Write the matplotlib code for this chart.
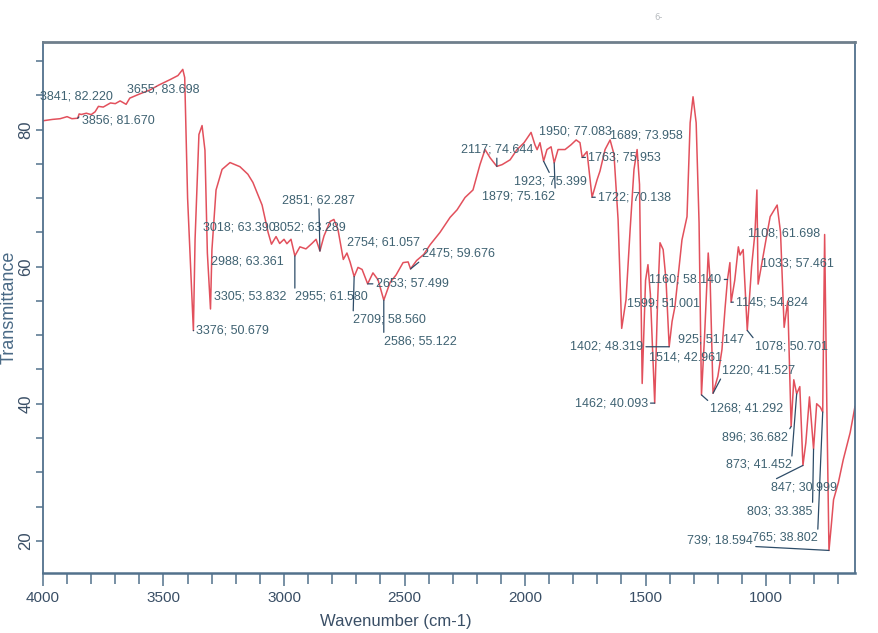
import matplotlib.pyplot as plt
from matplotlib.ticker import MultipleLocator

# FTIR spectrum
wavenumber = [4000, 3960, 3929, 3900, 3880, 3856, 3850, 3841, 3820, 3800, 3784, 3770,
              3750, 3720, 3700, 3680, 3655, 3640, 3600, 3556, 3520, 3473, 3440, 3420,
              3412, 3400, 3376, 3369, 3353, 3340, 3328, 3318, 3305, 3299, 3282, 3257,
              3224, 3183, 3150, 3129, 3091, 3066, 3052, 3033, 3018, 3000, 2988, 2971,
              2955, 2934, 2909, 2884, 2867, 2851, 2834, 2809, 2793, 2776, 2754, 2739,
              2726, 2709, 2693, 2676, 2653, 2631, 2610, 2586, 2560, 2535, 2506, 2485,
              2475, 2450, 2420, 2394, 2353, 2311, 2282, 2249, 2216, 2187, 2166, 2145,
              2117, 2095, 2062, 2033, 2004, 1975, 1959, 1950, 1938, 1923, 1909, 1892,
              1879, 1863, 1834, 1809, 1788, 1772, 1763, 1743, 1722, 1701, 1689, 1668,
              1647, 1631, 1614, 1599, 1581, 1564, 1548, 1535, 1525, 1514, 1500, 1490,
              1480, 1462, 1450, 1440, 1427, 1415, 1402, 1390, 1378, 1349, 1328, 1315,
              1303, 1290, 1278, 1268, 1255, 1240, 1232, 1220, 1200, 1183, 1170, 1160,
              1150, 1145, 1130, 1115, 1108, 1095, 1078, 1060, 1046, 1038, 1033, 1020,
              1000, 983, 954, 940, 925, 910, 896, 885, 873, 860, 847, 835, 820, 803,
              790, 775, 765, 757, 748, 739, 730, 720, 700, 680, 651, 631]
transmittance = [81.3, 81.5, 81.6, 81.9, 81.6, 81.67, 82.3, 82.22, 82.4, 82.2, 82.6, 83.4,
                 83.3, 83.9, 83.8, 84.2, 83.7, 84.6, 85.2, 85.8, 86.5, 87.3, 87.9, 88.8,
                 87.6, 70.0, 50.68, 64.0, 79.3, 80.6, 77.0, 62.0, 53.83, 62.5, 71.2, 74.2,
                 75.2, 74.6, 73.5, 72.3, 69.0, 65.0, 63.29, 64.4, 63.39, 64.0, 63.36, 64.0,
                 61.58, 62.9, 62.6, 63.4, 64.0, 62.29, 64.5, 66.6, 66.9, 65.4, 61.06, 62.0,
                 60.7, 58.56, 59.9, 59.6, 57.5, 59.1, 58.1, 55.12, 57.7, 58.8, 60.6, 60.7,
                 59.68, 60.9, 61.8, 63.2, 65.0, 67.2, 68.3, 70.1, 71.2, 74.9, 77.1, 75.9,
                 74.64, 74.9, 75.6, 77.1, 78.1, 79.6, 77.8, 77.08, 78.1, 75.4, 77.1, 77.5,
                 75.16, 77.1, 77.1, 77.8, 78.5, 78.1, 75.95, 76.8, 70.14, 72.7, 73.96, 77.1,
                 78.5, 76.4, 66.9, 51.0, 55.2, 65.4, 74.2, 77.1, 72.0, 42.96, 58.0, 60.3,
                 56.0, 40.09, 55.0, 63.5, 62.5, 58.0, 48.32, 52.0, 54.2, 63.9, 67.3, 81.0,
                 84.8, 81.0, 66.4, 41.29, 50.0, 62.0, 58.0, 41.53, 44.0, 47.9, 54.0, 58.14,
                 60.6, 54.82, 58.0, 62.9, 61.7, 62.5, 50.7, 60.0, 65.0, 71.2, 57.46, 60.0,
                 64.0, 67.3, 69.0, 65.0, 51.15, 55.0, 36.68, 43.5, 41.45, 42.5, 31.0, 34.3,
                 41.0, 33.39, 40.0, 39.5, 38.8, 64.7, 40.0, 18.59, 22.0, 26.0, 28.5, 31.8,
                 35.8, 39.6]

# peak labels
peak_wn = [3841, 3856, 3655, 3376, 3305, 3018, 3052, 2851, 2988, 2955, 2754, 2709,
           2653, 2586, 2475, 2117, 1950, 1923, 1879, 1763, 1722, 1689, 1599, 1402,
           925, 1514, 1462, 1268, 1220, 1160, 1145, 1108, 1078, 1033, 896, 873, 847,
           803, 765, 739]
peak_t = [82.220, 81.670, 83.698, 50.679, 53.832, 63.390, 63.289, 62.287, 63.361,
          61.580, 61.057, 58.560, 57.499, 55.122, 59.676, 74.644, 77.083, 75.399,
          75.162, 75.953, 70.138, 73.958, 51.001, 48.319, 51.147, 42.961, 40.093,
          41.292, 41.527, 58.140, 54.824, 61.698, 50.701, 57.461, 36.682, 41.452,
          30.999, 33.385, 38.802, 18.594]

# label placement: (dx px, dy px, ha, leader line?)
label_pos = [(-41, 18, 'left', False), (4, -2, 'left', True), (1, 15, 'left', False),
             (3, 0, 'left', True), (4, 12, 'left', False), (-4, 16, 'right', False),
             (2, 17, 'left', False), (-1, 51, 'center', True), (-3, -18, 'right', False),
             (0, -41, 'left', True), (4, 17, 'left', False), (-1, -43, 'left', True),
             (8, 0, 'left', True), (0, -41, 'left', True), (11, 15, 'left', True),
             (0, 17, 'center', True), (2, 18, 'left', False), (7, -20, 'center', True),
             (1, -34, 'right', True), (6, 0, 'left', True), (6, 0, 'left', True),
             (10, 36, 'left', False), (5, 25, 'left', False), (-26, 0, 'right', True),
             (-106, -12, 'left', False), (7, 26, 'left', False), (-7, 0, 'right', True),
             (9, -14, 'left', True), (9, 23, 'left', True), (-6, 0, 'right', True),
             (5, 0, 'left', True), (8, 22, 'left', False), (8, -16, 'left', True),
             (3, 21, 'left', False), (-3, -11, 'right', True), (-5, -71, 'right', True),
             (-32, -22, 'left', True), (-1, -62, 'right', True), (-5, -126, 'right', True),
             (-76, 10, 'right', True)]

frame_col = '#52718c'
text_col = '#3f6272'
line_col = '#e2505c'

fig = plt.figure(figsize=(8.79, 6.33), dpi=100)
ax = fig.add_axes([0.0489, 0.0948, 0.9238, 0.8389])

ax.plot(wavenumber, transmittance, color=line_col, lw=1.1)

for wn, t, (dx, dy, ha, lead) in zip(peak_wn, peak_t, label_pos):
    props = None
    if lead:
        rx = {'left': 0.0, 'right': 1.0, 'center': 0.5}[ha]
        ry = 1.0 if dy < 0 else (0.0 if dy > 0 else 0.5)
        props = dict(arrowstyle='-', color='#2d4c68', lw=0.9,
                     shrinkA=0, shrinkB=0, relpos=(rx, ry))
    ax.annotate(f"{wn}; {t:.3f}", xy=(wn, t), xytext=(dx, dy),
                textcoords='offset pixels', ha=ha, va='center',
                fontsize=9, color=text_col, family='Liberation Sans',
                arrowprops=props)

ax.set_xlim(4000, 631)
ax.set_ylim(15.3, 92.8)
ax.xaxis.set_major_locator(MultipleLocator(500))
ax.xaxis.set_minor_locator(MultipleLocator(100))
ax.yaxis.set_major_locator(MultipleLocator(20))
ax.yaxis.set_minor_locator(MultipleLocator(5))
ax.tick_params(axis='both', which='both', direction='out', color=frame_col,
               labelcolor='#3a4f66', width=1.1)
ax.tick_params(axis='x', which='major', length=9, labelsize=11, pad=4)
ax.tick_params(axis='x', which='minor', length=8)
ax.tick_params(axis='y', which='major', length=5, labelsize=12, pad=2)
ax.tick_params(axis='y', which='minor', length=5)
for lab in ax.get_xticklabels():
    lab.set_family('Liberation Sans')
for lab in ax.get_yticklabels():
    lab.set_family('Liberation Sans')
    lab.set_rotation(90)
    lab.set_va('center')

for side, sp in ax.spines.items():
    sp.set_color(frame_col)
    sp.set_linewidth(1.3)
ax.spines['top'].set_color('#6f7f8c')
ax.spines['top'].set_linewidth(2.0)
ax.spines['bottom'].set_linewidth(1.8)

ax.set_xlabel("Wavenumber (cm-1)", fontsize=12, color='#3a4f66',
              family='Liberation Sans')
ax.xaxis.set_label_coords(0.435, -0.078)
ax.set_ylabel("Transmittance", fontsize=13, color='#4a6a86', family='Liberation Sans')
ax.yaxis.set_label_coords(-0.031, 0.5)

fig.text(0.745, 0.968, "6-", fontsize=6, color='#b8bcc0')

plt.savefig("out.png", dpi=100)
